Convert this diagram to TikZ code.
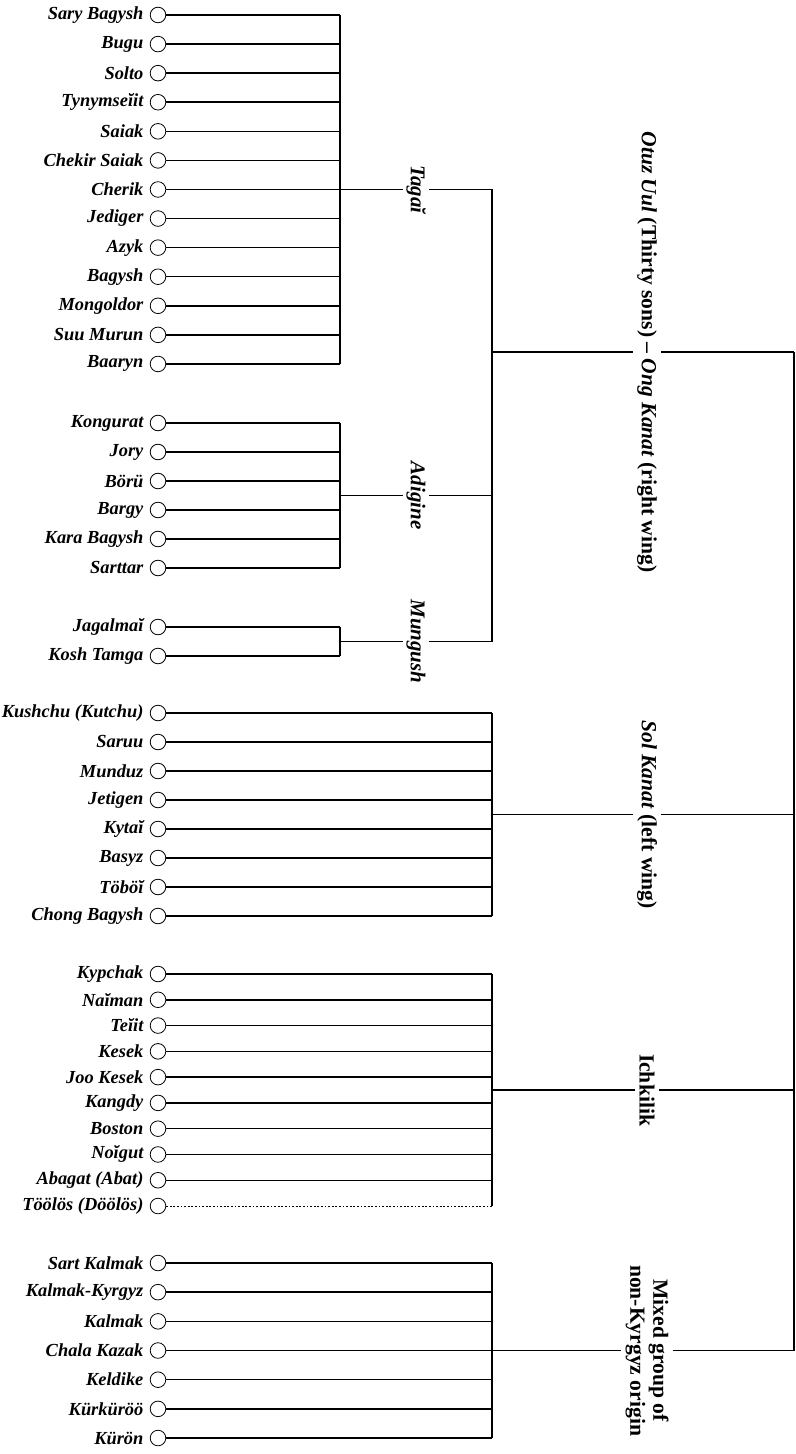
\documentclass[tikz,border=0pt]{standalone}
\usepackage{fontspec}
\setmainfont{Liberation Serif}
\usetikzlibrary{positioning,calc}

\begin{document}
\begin{tikzpicture}[
  x=0.5pt, y=-0.5pt,
  clan/.style={circle, draw, line width=0.4pt, minimum size=7.8pt, inner sep=0pt},
  clanname/.style={font=\fontsize{9.2}{11}\selectfont\bfseries\itshape, inner sep=0pt},
  stem/.style={line width=0.75pt},
  faint/.style={line width=0.5pt, dash pattern=on 0.9pt off 0.9pt},
  branch/.style={rotate=-90, font=\fontsize{10.5}{12}\selectfont\bfseries\itshape, inner sep=1.5pt},
  wing/.style={rotate=-90, font=\fontsize{10.8}{11.5}\selectfont\bfseries, inner sep=2pt, align=center},
]
\useasboundingbox (0,0) rectangle (796,1454);

% bar positions
\coordinate (lbar) at (340,0);
\coordinate (mbar) at (492,0);
\coordinate (rbar) at (794,0);

% Tagai clans
\foreach \n [count=\k] in {Sary Bagysh, Bugu, Solto, Tynymseĭit, Saiak, Chekir Saiak, Cherik, Jediger, Azyk, Bagysh, Mongoldor, Suu Murun, Baaryn} {
  \node[clan] (tg\k) at (158,{15+(\k-1)*29.08}) {};
  \node[clanname, left=3pt of tg\k] (tg\k-n) {\n};
}
\foreach \k in {1,...,13} \draw[stem] (tg\k.east) -- (tg\k.east -| lbar);
\draw[stem] (tg1.east -| lbar) -- (tg13.east -| lbar);
\coordinate (tgJ) at ($(tg1.east -| lbar)!0.5!(tg13.east -| lbar)$);
\node[branch] (tagai) at ($(tgJ)+(76,0)$) {Tagaĭ};
\draw[stem] (tgJ) -- (tagai) -- (tagai -| mbar);

% Adigine clans
\foreach \n [count=\k] in {Kongurat, Jory, Börü, Bargy, Kara Bagysh, Sarttar} {
  \node[clan] (ad\k) at (158,{423+(\k-1)*29}) {};
  \node[clanname, left=3pt of ad\k] (ad\k-n) {\n};
}
\foreach \k in {1,...,6} \draw[stem] (ad\k.east) -- (ad\k.east -| lbar);
\draw[stem] (ad1.east -| lbar) -- (ad6.east -| lbar);
\coordinate (adJ) at ($(ad1.east -| lbar)!0.5!(ad6.east -| lbar)$);
\node[branch] (adigine) at ($(adJ)+(76,0)$) {Adigine};
\draw[stem] (adJ) -- (adigine) -- (adigine -| mbar);

% Mungush clans
\foreach \n [count=\k] in {Jagalmaĭ, Kosh Tamga} {
  \node[clan] (mg\k) at (158,{627+(\k-1)*29}) {};
  \node[clanname, left=3pt of mg\k] (mg\k-n) {\n};
}
\foreach \k in {1,2} \draw[stem] (mg\k.east) -- (mg\k.east -| lbar);
\draw[stem] (mg1.east -| lbar) -- (mg2.east -| lbar);
\coordinate (mgJ) at ($(mg1.east -| lbar)!0.5!(mg2.east -| lbar)$);
\node[branch] (mungush) at ($(mgJ)+(76,0)$) {Mungush};
\draw[stem] (mgJ) -- (mungush) -- (mungush -| mbar);

% right wing
\draw[stem] (tagai -| mbar) -- (mungush -| mbar);
\coordinate (otJ) at (492,352);
\node[wing] (otuz) at (647,352) {\textit{Otuz Uul} (Thirty sons) -- \textit{Ong Kanat} (right wing)};
\draw[stem] (otJ) -- (otuz) -- (otuz -| rbar);

% left wing
\foreach \n [count=\k] in {Kushchu (Kutchu), Saruu, Munduz, Jetigen, Kytaĭ, Basyz, Töböĭ, Chong Bagysh} {
  \node[clan] (sk\k) at (158,{713+(\k-1)*29}) {};
  \node[clanname, left=3pt of sk\k] (sk\k-n) {\n};
}
\foreach \k in {1,...,8} \draw[stem] (sk\k.east) -- (sk\k.east -| mbar);
\draw[stem] (sk1.east -| mbar) -- (sk8.east -| mbar);
\coordinate (skJ) at ($(sk1.east -| mbar)!0.5!(sk8.east -| mbar)$);
\node[wing] (sol) at ($(skJ)+(155,0)$) {\textit{Sol Kanat} (left wing)};
\draw[stem] (skJ) -- (sol) -- (sol -| rbar);

% Ichkilik
\foreach \n [count=\k] in {Kypchak, Naĭman, Teĭit, Kesek, Joo Kesek, Kangdy, Boston, Noĭgut, Abagat (Abat), Töölös (Döölös)} {
  \node[clan] (ik\k) at (158,{974+(\k-1)*25.78}) {};
  \node[clanname, left=3pt of ik\k] (ik\k-n) {\n};
}
\foreach \k in {1,...,9} \draw[stem] (ik\k.east) -- (ik\k.east -| mbar);
\draw[faint] (ik10.east) -- (ik10.east -| mbar);
\draw[stem] (ik1.east -| mbar) -- (ik10.east -| mbar);
\coordinate (ikJ) at ($(ik1.east -| mbar)!0.5!(ik10.east -| mbar)$);
\node[wing] (ichkilik) at ($(ikJ)+(155,0)$) {Ichkilik};
\draw[stem] (ikJ) -- (ichkilik) -- (ichkilik -| rbar);

% non-Kyrgyz group
\foreach \n [count=\k] in {Sart Kalmak, Kalmak-Kyrgyz, Kalmak, Chala Kazak, Keldike, Kürküröö, Kürön} {
  \node[clan] (mx\k) at (158,{1263+(\k-1)*29.17}) {};
  \node[clanname, left=3pt of mx\k] (mx\k-n) {\n};
}
\foreach \k in {1,...,7} \draw[stem] (mx\k.east) -- (mx\k.east -| mbar);
\draw[stem] (mx1.east -| mbar) -- (mx7.east -| mbar);
\coordinate (mxJ) at ($(mx1.east -| mbar)!0.5!(mx7.east -| mbar)$);
\node[wing] (mixed) at ($(mxJ)+(155,0)$) {Mixed group of\\non-Kyrgyz origin};
\draw[stem] (mxJ) -- (mixed) -- (mixed -| rbar);

% outer bar
\draw[stem] (otuz -| rbar) -- (mixed -| rbar);
\end{tikzpicture}
\end{document}
